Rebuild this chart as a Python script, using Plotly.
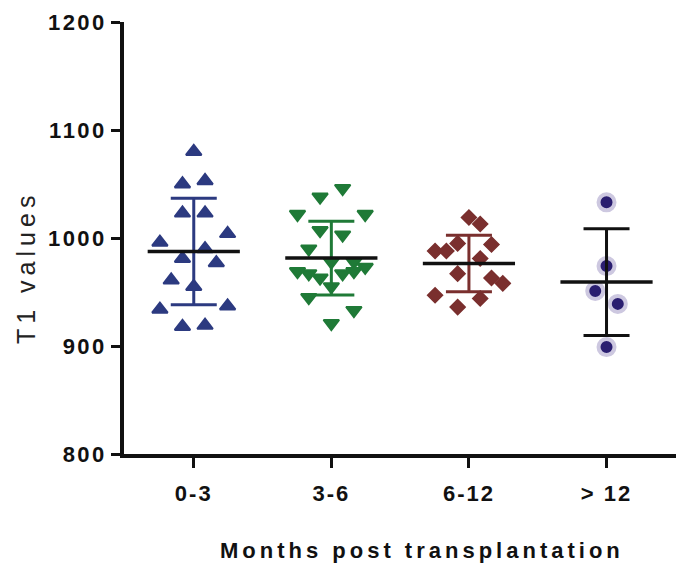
import numpy as np
import plotly.graph_objects as go

# Groups on the x axis
categories = ["0-3", "3-6", "6-12", "> 12"]

# T1 values per group
t1_0_3 = [1080, 1050, 1053, 1023, 1023, 996, 1004, 990, 981, 977, 961, 955, 934, 937, 918, 919]
t1_3_6 = [1046, 1038, 1022, 1022, 1007, 1003, 990, 978, 978, 969, 967, 963, 967, 969, 973, 955, 945, 933, 921]
t1_6_12 = [1019, 1013, 988, 988, 995, 994, 981, 967, 963, 958, 947, 936, 944]
t1_gt_12 = [1033, 974, 951, 939, 899]

# Scatter lane of each point (column-scatter layout)
lane_0_3 = [0, -1, 1, -1, 1, -3, 3, 1, -1, 2, -2, 0, -3, 3, -1, 1]
lane_3_6 = [1, -1, -3, 3, -1, 1, -2, 0, 2, -3, -2, -1, 1, 2, 3, 0, -2, 2, 0]
lane_6_12 = [0, 1, -3, -2, -1, 2, 1, -1, 2, 3, -3, -1, 1]
lane_gt_12 = [0, 0, -1, 1, 0]

y_ticks = [800, 900, 1000, 1100, 1200]

groups = [t1_0_3, t1_3_6, t1_6_12, t1_gt_12]
lanes = [lane_0_3, lane_3_6, lane_6_12, lane_gt_12]

LANE_W = 0.082
MEAN_HALF = 0.335

styles = [
    dict(symbol="triangle-up", color="#2c3a80", size=13.5, line=dict(color="#2c3a80", width=2)),
    dict(symbol="triangle-down", color="#1f7a37", size=13.5, line=dict(color="#1f7a37", width=2)),
    dict(symbol="diamond", color="#7a2f2e", size=11.5, line=dict(color="#7a2f2e", width=1.5)),
    dict(symbol="circle", color="#2a1e70", size=16, line=dict(color="#cdc8e0", width=4)),
]
bar_colors = ["#2c3a80", "#1f7a37", "#7a2f2e", "#111111"]

fig = go.Figure()

for i, (vals, ln, st) in enumerate(zip(groups, lanes, styles)):
    xs = [i + l * LANE_W for l in ln]
    fig.add_trace(go.Scatter(x=xs, y=vals, mode="markers", marker=st,
                             showlegend=False, hoverinfo="y"))

for i, vals in enumerate(groups):
    m = float(np.mean(vals))
    sd = float(np.std(vals, ddof=1))
    # mean +/- SD whisker
    fig.add_trace(go.Scatter(
        x=[i], y=[m], mode="markers", marker=dict(size=1, opacity=0),
        error_y=dict(type="data", array=[sd], visible=True, color=bar_colors[i],
                     thickness=3, width=23),
        showlegend=False, hoverinfo="skip"))
    # mean line
    fig.add_trace(go.Scatter(
        x=[i - MEAN_HALF, i + MEAN_HALF], y=[m, m], mode="lines",
        line=dict(color="#111111", width=3.5), showlegend=False, hoverinfo="skip"))

def spaced(t, px):
    return f'<span style="letter-spacing:{px}px">{t}</span>'

tick_font = dict(family="Liberation Sans, Arial, sans-serif", size=22, color="#111111", weight="bold")

fig.update_layout(
    width=676, height=571,
    margin=dict(l=124, r=0, t=22, b=117),
    plot_bgcolor="white", paper_bgcolor="white",
    xaxis=dict(
        range=[-0.507, 3.505], tickmode="array",
        tickvals=list(range(len(categories))),
        ticktext=[spaced(c, 2) for c in categories],
        showgrid=False, zeroline=False, showline=True, linecolor="#111111", linewidth=3.5,
        ticks="outside", ticklen=10, tickwidth=3, tickcolor="#111111",
        tickfont=tick_font, ticklabelstandoff=7, automargin=False,
    ),
    yaxis=dict(
        range=[800, 1200], tickmode="array", tickvals=y_ticks,
        ticktext=[spaced(str(v), 2.5) for v in y_ticks],
        showgrid=False, zeroline=False, showline=True, linecolor="#111111", linewidth=3.5,
        ticks="outside", ticklen=9, tickwidth=3, tickcolor="#111111",
        tickfont=tick_font, automargin=False,
    ),
    annotations=[
        dict(text=spaced("Months post transplantation", 4), xref="paper", yref="paper",
             x=0.54, y=-0.2245, xanchor="center", yanchor="middle", showarrow=False,
             font=dict(family="Liberation Sans, Arial, sans-serif", size=22, color="#111111", weight="bold")),
        dict(text=spaced("T1 values", 5), xref="paper", yref="paper",
             x=-0.1775, y=0.4306, xanchor="center", yanchor="middle", showarrow=False,
             textangle=-90,
             font=dict(family="Liberation Sans, Arial, sans-serif", size=25, color="#222222")),
    ],
)

fig.write_html("out.html")
